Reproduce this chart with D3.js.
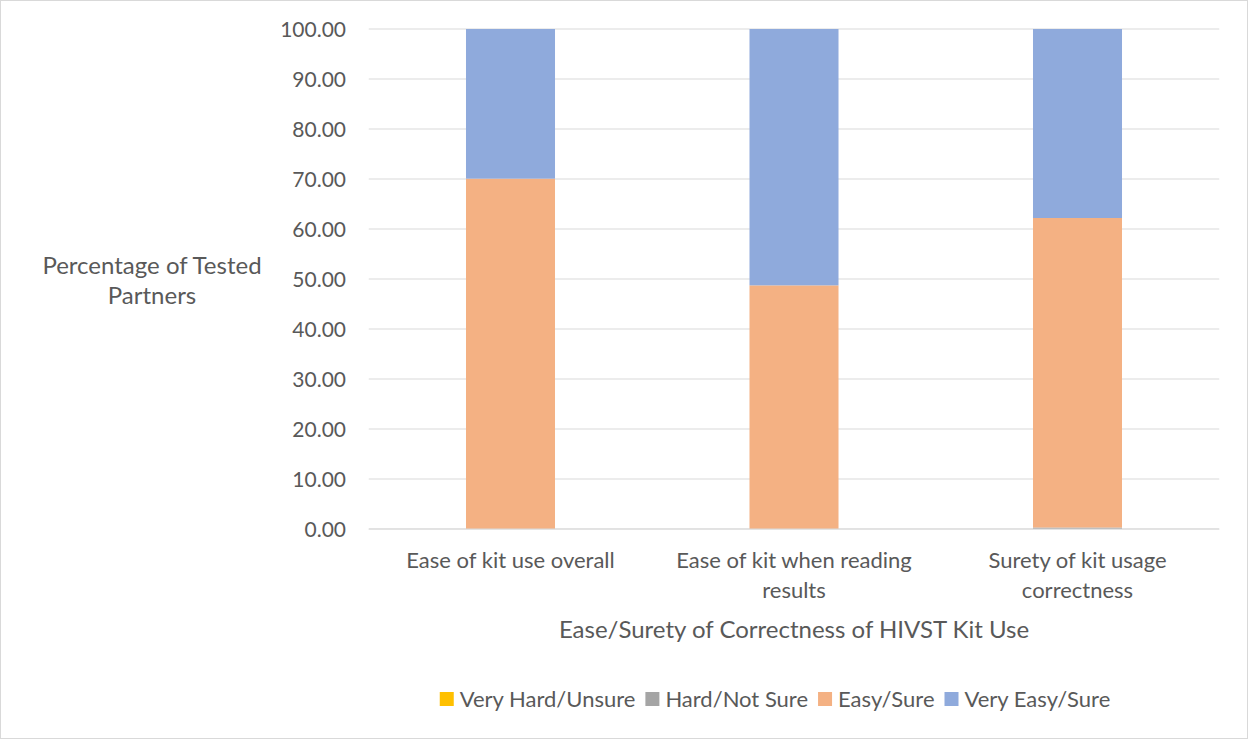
<!DOCTYPE html>
<html>
<head>
<meta charset="utf-8">
<script src="https://cdn.jsdelivr.net/npm/d3@7"></script>
<style>
  html, body { margin: 0; padding: 0; background: #fff; }
  svg text { font-family: Lato, "Liberation Sans", sans-serif; fill: #595959; }
</style>
</head>
<body>
<svg id="chart" width="1249" height="740"></svg>
<script>
// Categories and series values (percent of tested partners)
const categories = [
  "Ease of kit use overall",
  "Ease of kit when reading results",
  "Surety of kit usage correctness"
];
const seriesNames = ["Very Hard/Unsure", "Hard/Not Sure", "Easy/Sure", "Very Easy/Sure"];
const veryHard = [0, 0, 0];
const hard = [0, 0, 0.3];
const easy = [70.07, 48.73, 61.9];
const veryEasy = [29.93, 51.27, 37.8];
const yTicks = [0, 10, 20, 30, 40, 50, 60, 70, 80, 90, 100];
const seriesColors = ["#FFC000", "#A5A5A5", "#F4B183", "#8FAADC"];

const rows = categories.map((c, i) => ({
  category: c,
  [seriesNames[0]]: veryHard[i],
  [seriesNames[1]]: hard[i],
  [seriesNames[2]]: easy[i],
  [seriesNames[3]]: veryEasy[i]
}));

const svg = d3.select("#chart");
const W = 1249, H = 740;

// outer chart border
svg.append("rect")
  .attr("x", 0.5).attr("y", 0.5)
  .attr("width", W - 2).attr("height", H - 2)
  .attr("fill", "#fff").attr("stroke", "#d9d9d9");

const plot = { left: 368.75, right: 1219.25, top: 29, bottom: 529 };

const x = d3.scaleBand()
  .domain(categories)
  .range([plot.left, plot.right])
  .paddingInner(0.686)
  .paddingOuter(0.343);

const y = d3.scaleLinear().domain([0, 100]).range([plot.bottom, plot.top]);

// gridlines
svg.append("g")
  .selectAll("line")
  .data(yTicks)
  .join("line")
  .attr("x1", plot.left).attr("x2", plot.right)
  .attr("y1", d => y(d)).attr("y2", d => y(d))
  .attr("stroke", "#d9d9d9").attr("stroke-width", 1);

// stacked bars
const stack = d3.stack().keys(seriesNames);
const layers = stack(rows);
svg.append("g")
  .selectAll("g")
  .data(layers)
  .join("g")
  .attr("fill", (d, i) => seriesColors[i])
  .selectAll("rect")
  .data(d => d)
  .join("rect")
  .attr("x", d => x(d.data.category))
  .attr("width", x.bandwidth())
  .attr("y", d => y(d[1]))
  .attr("height", d => Math.max(0, y(d[0]) - y(d[1])));

// baseline axis line
svg.append("line")
  .attr("x1", plot.left).attr("x2", plot.right)
  .attr("y1", plot.bottom).attr("y2", plot.bottom)
  .attr("stroke", "#d9d9d9");

// y axis tick labels
const yAxis = d3.axisLeft(y).tickValues(yTicks).tickFormat(d3.format(".2f")).tickSize(0).tickPadding(0);
const gy = svg.append("g").attr("transform", `translate(346,0)`).call(yAxis);
gy.select(".domain").remove();
gy.selectAll("text").style("font-size", "21px").attr("fill", "#595959").attr("dy", "0.35em");

// x axis tick labels (wrapped)
const xAxis = d3.axisBottom(x).tickSize(0).tickPadding(0);
const gx = svg.append("g").attr("transform", `translate(0,${plot.bottom})`).call(xAxis);
gx.select(".domain").remove();
gx.selectAll("text")
  .style("font-size", "22px")
  .attr("fill", "#595959")
  .each(function(d) {
    const t = d3.select(this);
    const words = d.split(" ");
    const lines = [];
    let cur = [];
    const maxW = 252;
    t.text(null);
    const probe = t.append("tspan");
    words.forEach(w => {
      cur.push(w);
      probe.text(cur.join(" "));
      if (probe.node().getComputedTextLength() > maxW && cur.length > 1) {
        cur.pop();
        lines.push(cur.join(" "));
        cur = [w];
      }
    });
    lines.push(cur.join(" "));
    probe.remove();
    t.attr("y", 0).attr("dy", null);
    lines.forEach((ln, i) => {
      t.append("tspan").attr("x", 0).attr("y", 31 + i * 30).attr("dy", "0.35em").text(ln);
    });
  });

// axis titles
svg.append("text")
  .attr("x", 794).attr("y", 630).attr("dy", "0.35em")
  .attr("text-anchor", "middle")
  .style("font-size", "24px")
  .text("Ease/Surety of Correctness of HIVST Kit Use");

const yTitle = svg.append("text")
  .attr("text-anchor", "middle")
  .style("font-size", "24px");
["Percentage of Tested", "Partners"].forEach((ln, i) => {
  yTitle.append("tspan").attr("x", 152).attr("y", 266 + i * 30).attr("dy", "0.35em").text(ln);
});

// legend, centred below the plot
const legend = svg.append("g");
let lx = 0;
seriesNames.forEach((name, i) => {
  const g = legend.append("g").attr("transform", `translate(${lx},0)`);
  g.append("rect").attr("x", 0).attr("y", -7).attr("width", 14).attr("height", 14).attr("fill", seriesColors[i]);
  const txt = g.append("text").attr("x", 20).attr("dy", "0.35em").style("font-size", "22px").text(name);
  lx += 20 + txt.node().getComputedTextLength() + (i < seriesNames.length - 1 ? 10 : 0);
});
legend.attr("transform", `translate(${775 - lx / 2},699)`);
</script>
</body>
</html>
